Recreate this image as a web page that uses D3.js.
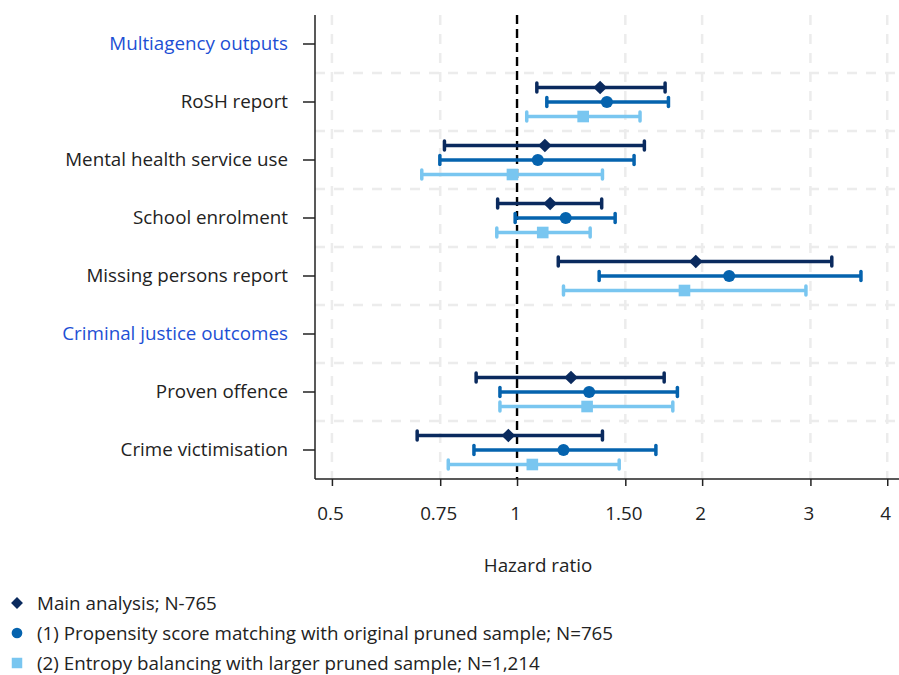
<!DOCTYPE html>
<html>
<head>
<meta charset="utf-8">
<script src="https://cdn.jsdelivr.net/npm/d3@7"></script>
<style>
  body { margin: 0; background: #fff; }
  svg { display: block; font-family: "Open Sans", "Noto Sans", sans-serif; }
</style>
</head>
<body>
<svg id="chart" width="899" height="675"></svg>
<script>
// Rows on the vertical axis (headers have no estimates)
const rows = [
  "Multiagency outputs",
  "RoSH report",
  "Mental health service use",
  "School enrolment",
  "Missing persons report",
  "Criminal justice outcomes",
  "Proven offence",
  "Crime victimisation"
];
const headerRows = ["Multiagency outputs", "Criminal justice outcomes"];

const outcomes = [
  "RoSH report",
  "Mental health service use",
  "School enrolment",
  "Missing persons report",
  "Proven offence",
  "Crime victimisation"
];

// Hazard ratios with 95% confidence intervals, per model
const mainHR    = [1.365, 1.11, 1.132, 1.953, 1.224, 0.968];
const mainLow   = [1.077, 0.762, 0.930, 1.167, 0.858, 0.688];
const mainHigh  = [1.741, 1.611, 1.373, 3.25, 1.735, 1.377];

const psmHR     = [1.40, 1.081, 1.20, 2.213, 1.31, 1.19];
const psmLow    = [1.118, 0.749, 0.993, 1.36, 0.938, 0.851];
const psmHigh   = [1.763, 1.55, 1.444, 3.625, 1.823, 1.682];

const ebHR      = [1.281, 0.983, 1.101, 1.872, 1.30, 1.059];
const ebLow     = [1.037, 0.70, 0.927, 1.19, 0.938, 0.773];
const ebHigh    = [1.585, 1.377, 1.315, 2.95, 1.792, 1.466];

const tickValues = [0.5, 0.75, 1, 1.5, 2, 3, 4];
const tickLabels = ["0.5", "0.75", "1", "1.50", "2", "3", "4"];

const seriesNames = [
  "Main analysis; N-765",
  "(1) Propensity score matching with original pruned sample; N=765",
  "(2) Entropy balancing with larger pruned sample; N=1,214"
];
const seriesColors = ["#0a2a5e", "#0563ae", "#79c6f0"];
const seriesShapes = [d3.symbolDiamond2 || d3.symbolDiamond, d3.symbolCircle, d3.symbolSquare];

const series = [
  { hr: mainHR, lo: mainLow, hi: mainHigh },
  { hr: psmHR, lo: psmLow, hi: psmHigh },
  { hr: ebHR, lo: ebLow, hi: ebHigh }
];

const FONT = 18.8;
const svg = d3.select("#chart");
const plotLeft = 315, plotRight = 899, plotTop = 15, plotBottom = 479;

const x = d3.scaleLog().domain([0.4693, 4.18]).range([plotLeft, plotRight]);
const y = d3.scaleBand().domain(rows).range([plotTop, plotBottom]);
const yc = r => y(r) + y.bandwidth() / 2;
const offset = d3.scalePoint().domain([0, 1, 2]).range([-14.5, 14.5]);

// Grid: vertical at each tick, horizontal between rows
const grid = svg.append("g").attr("stroke", "#ececec").attr("stroke-width", 2.5)
  .attr("stroke-dasharray", "10,9");
grid.selectAll("line.v").data(tickValues.filter(v => v !== 1)).join("line")
  .attr("class", "v")
  .attr("x1", d => x(d)).attr("x2", d => x(d))
  .attr("y1", plotTop).attr("y2", plotBottom);
grid.selectAll("line.h").data(rows.slice(1)).join("line")
  .attr("class", "h")
  .attr("x1", plotLeft).attr("x2", plotRight)
  .attr("y1", d => y(d)).attr("y2", d => y(d));

// Reference line at HR = 1
svg.append("line")
  .attr("x1", x(1)).attr("x2", x(1)).attr("y1", plotTop).attr("y2", plotBottom)
  .attr("stroke", "#000").attr("stroke-width", 2.4).attr("stroke-dasharray", "9,5");

// Y axis
const yAxis = svg.append("g").attr("transform", `translate(${plotLeft},0)`)
  .call(d3.axisLeft(y).tickSize(12).tickPadding(15));
yAxis.select(".domain").attr("stroke", "#222").attr("stroke-width", 1.5)
  .attr("d", `M0,${plotTop}V${plotBottom}`);
yAxis.selectAll(".tick line").attr("stroke", "#222").attr("stroke-width", 1.5);
yAxis.selectAll(".tick text")
  .attr("font-size", FONT)
  .attr("font-family", "'Open Sans', sans-serif")
  .attr("fill", d => headerRows.includes(d) ? "#1d4fd4" : "#222");

// X axis
const xAxis = svg.append("g").attr("transform", `translate(0,${plotBottom})`)
  .call(d3.axisBottom(x).tickValues(tickValues)
    .tickFormat((d, i) => tickLabels[i]).tickSize(7).tickPadding(21));
xAxis.select(".domain").attr("stroke", "#222").attr("stroke-width", 1.5)
  .attr("d", `M${plotLeft},0H${plotRight}`);
xAxis.selectAll(".tick line").attr("stroke", "#222").attr("stroke-width", 1.5);
xAxis.selectAll(".tick text")
  .attr("font-size", FONT)
  .attr("font-family", "'Open Sans', sans-serif")
  .attr("fill", "#222")
  .attr("dx", -2);

svg.append("text")
  .attr("x", 538).attr("y", 572)
  .attr("text-anchor", "middle")
  .attr("font-size", FONT).attr("fill", "#222")
  .text("Hazard ratio");

// Estimates with confidence intervals
series.forEach((s, k) => {
  const g = svg.append("g").attr("fill", seriesColors[k]).attr("stroke", seriesColors[k]);
  const data = outcomes.map((o, i) => ({ o, hr: s.hr[i], lo: s.lo[i], hi: s.hi[i] }));
  const cy = d => yc(d.o) + offset(k);
  g.selectAll("line.ci").data(data).join("line")
    .attr("class", "ci")
    .attr("x1", d => x(d.lo)).attr("x2", d => x(d.hi))
    .attr("y1", cy).attr("y2", cy)
    .attr("stroke-width", 3.5);
  g.selectAll("line.capL").data(data).join("line")
    .attr("class", "capL")
    .attr("x1", d => x(d.lo)).attr("x2", d => x(d.lo))
    .attr("y1", d => cy(d) - 4.5).attr("y2", d => cy(d) + 4.5)
    .attr("stroke-width", 3.5).attr("stroke-linecap", "round");
  g.selectAll("line.capR").data(data).join("line")
    .attr("class", "capR")
    .attr("x1", d => x(d.hi)).attr("x2", d => x(d.hi))
    .attr("y1", d => cy(d) - 4.5).attr("y2", d => cy(d) + 4.5)
    .attr("stroke-width", 3.5).attr("stroke-linecap", "round");
  const size = k === 0 ? 120 : (k === 1 ? 115 : 135);
  g.selectAll("path.pt").data(data).join("path")
    .attr("class", "pt")
    .attr("transform", d => `translate(${x(d.hr)},${cy(d)})`)
    .attr("d", d3.symbol().type(seriesShapes[k]).size(size))
    .attr("stroke", "none");
});

// Legend
const legend = svg.append("g");
seriesNames.forEach((name, k) => {
  const ly = 603 + k * 30;
  legend.append("path")
    .attr("transform", `translate(17,${ly})`)
    .attr("d", d3.symbol().type(seriesShapes[k]).size(k === 2 ? 110 : 90))
    .attr("fill", seriesColors[k]);
  legend.append("text")
    .attr("x", 37).attr("y", ly + 7)
    .attr("font-size", FONT).attr("fill", "#222")
    .text(name);
});
</script>
</body>
</html>
